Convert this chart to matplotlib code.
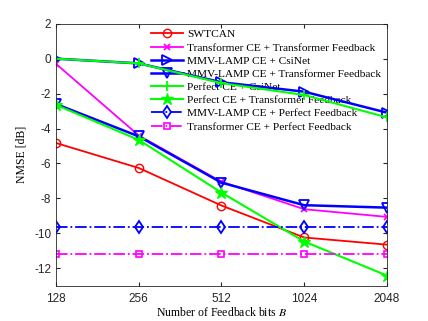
import numpy as np
import matplotlib.pyplot as plt

bits = [128, 256, 512, 1024, 2048]
swtcan = [-4.83, -6.26, -8.41, -10.24, -10.65]
trans_tf = [-0.3, -4.4, -7.05, -8.62, -9.06]
mmv_csinet = [0.0, -0.27, -1.35, -1.89, -3.09]
mmv_tf = [-2.6, -4.45, -7.1, -8.39, -8.53]
perf_csinet = [0.0, -0.27, -1.4, -2.08, -3.36]
perf_tf = [-2.65, -4.65, -7.67, -10.47, -12.42]
mmv_pf = [-9.65] * 5
trans_pf = [-11.2] * 5

plt.rcParams['font.family'] = ['Liberation Serif', 'DejaVu Serif']
plt.rcParams['mathtext.fontset'] = 'stix'

fig = plt.figure(figsize=(4.28, 3.21), dpi=100)
ax = fig.add_axes([0.131, 0.110, 0.773, 0.816])

x = np.log2(bits)
mfc = 'none'
ax.plot(x, swtcan, color='r', marker='o', mfc=mfc, ms=6, lw=1.3, label='SWTCAN')
ax.plot(x, trans_tf, color='#ff00ff', marker='x', ms=5, mew=1.3, lw=1.3,
        label='Transformer CE + Transformer Feedback')
ax.plot(x, mmv_csinet, color='#0000ff', marker='>', mfc=mfc, ms=7, mew=1.3, lw=1.8,
        label='MMV-LAMP CE + CsiNet')
ax.plot(x, mmv_tf, color='#0000ff', marker='v', mfc=mfc, ms=7, mew=1.3, lw=1.8,
        label='MMV-LAMP CE + Transformer Feedback')
ax.plot(x, perf_csinet, color='#00ff00', marker='+', ms=7, mew=1.3, lw=1.5,
        label='Perfect CE + CsiNet')
ax.plot(x, perf_tf, color='#00ff00', marker='*', ms=9, lw=1.5,
        label='Perfect CE + Transformer Feedback')
ax.plot(x, mmv_pf, color='#0000ff', marker='d', mfc=mfc, ms=6, mew=1.3, lw=1.3,
        ls='-.', label='MMV-LAMP CE + Perfect Feedback')
ax.plot(x, trans_pf, color='#ff00ff', marker='s', mfc=mfc, ms=5, mew=1.2, lw=1.3,
        ls='-.', label='Transformer CE + Perfect Feedback')

ax.set_xlim(x[0], x[-1])
ax.set_ylim(-13, 2)
ax.set_xticks(x)
ax.set_xticklabels([str(b) for b in bits], family='Liberation Sans')
ax.set_yticks(np.arange(-12, 3, 2))
ax.set_yticklabels([str(v) for v in range(-12, 3, 2)], family='Liberation Sans')
ax.tick_params(direction='in', top=True, right=True, labelsize=8.5, colors='#262626',
               length=3)
ax.tick_params(axis='x', pad=5)
for s in ax.spines.values():
    s.set_color('#262626')
    s.set_linewidth(0.6)

ax.set_xlabel('Number of Feedback bits $B$', fontsize=8.5, labelpad=1)
ax.set_ylabel('NMSE [dB]', fontsize=8.5, labelpad=5)

leg = ax.legend(loc='upper right', fontsize=8.2, frameon=False, handlelength=2.8,
                labelspacing=0.28, borderaxespad=0.1, handletextpad=0.4)
leg.set_zorder(1)

fig.savefig('out.png', dpi=100)
